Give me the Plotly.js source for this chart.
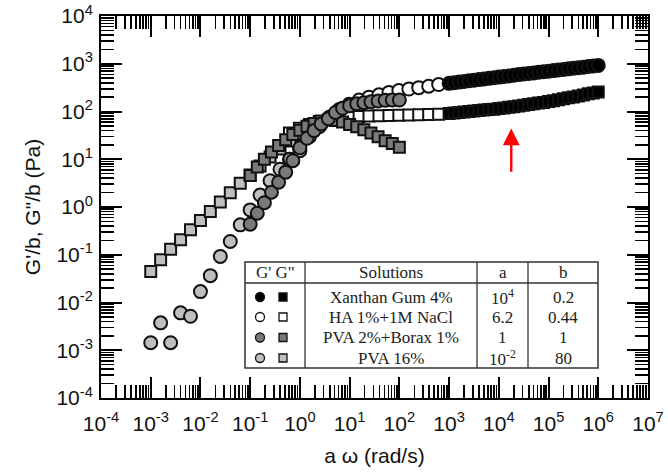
<!DOCTYPE html>
<html>
<head>
<meta charset="utf-8">
<script src="https://cdn.plot.ly/plotly-3.0.1.min.js"></script>
<style>html,body{margin:0;padding:0;background:#fff;}#chart{width:668px;height:475px;}</style>
</head>
<body>
<div id="chart"></div>
<script>
// ---------- data (x = a*omega, y = G/b) ----------
const pva16_x = [0.001, 0.00158, 0.00251, 0.00398, 0.00631, 0.01, 0.0158, 0.0251, 0.0398, 0.0631, 0.1, 0.158, 0.251, 0.398, 0.631, 1.0];
const pva16_Gp = [0.00144, 0.00375, 0.00144, 0.00607, 0.00515, 0.0169, 0.0365, 0.0923, 0.190, 0.423, 0.869, 1.78, 3.55, 6.17, 10.0, 15.1];
const pva16_Gpp = [0.0448, 0.0787, 0.131, 0.206, 0.333, 0.52, 0.802, 1.28, 2.0, 3.14, 4.68, 7.21, 11.1, 16.3, 24.0, 33.6];

const pva2_x = [0.1, 0.139, 0.193, 0.268, 0.373, 0.518, 0.720, 1.0, 1.39, 1.93, 2.68, 3.73, 5.18, 7.20, 10, 13.9, 19.3, 26.8, 37.3, 51.8, 72.0, 100];
const pva2_Gp = [0.437, 0.741, 1.23, 2.04, 3.31, 5.37, 9.33, 17.4, 27.5, 39.8, 55.0, 70.8, 95.5, 117, 132, 145, 153, 160, 166, 172, 174, 174];
const pva2_Gpp = [4.57, 6.92, 10.0, 14.1, 19.5, 25.7, 33.1, 40.7, 49.0, 56.2, 63.1, 66.1, 64.6, 60.3, 53.7, 47.9, 41.7, 35.5, 29.5, 24.5, 21.4, 17.8];

const ha_x = [0.617, 0.977, 1.55, 2.45, 3.89, 6.17, 9.77, 15.5, 24.5, 38.9, 61.7, 97.7, 155, 245, 389, 617];
const ha_Gp = [10.0, 17.8, 29.5, 47.9, 75.9, 110, 141, 174, 200, 224, 251, 275, 295, 316, 339, 367];
const ha_Gpp = [35.5, 44.7, 53.7, 61.7, 67.6, 72.4, 75.9, 78.5, 80.4, 81.3, 82.2, 83.2, 84.1, 85.1, 86.1, 87.1];

const xg_x = [1e3, 1.26e3, 1.58e3, 2.0e3, 2.51e3, 3.16e3, 3.98e3, 5.01e3, 6.31e3, 7.94e3,
              1e4, 1.26e4, 1.58e4, 2.0e4, 2.51e4, 3.16e4, 3.98e4, 5.01e4, 6.31e4, 7.94e4,
              1e5, 1.26e5, 1.58e5, 2.0e5, 2.51e5, 3.16e5, 3.98e5, 5.01e5, 6.31e5, 7.94e5, 1e6];
const xg_Gp = [389, 401, 413, 426, 439, 452, 466, 480, 494, 509, 525, 541, 557, 574, 592, 610, 627, 644, 662, 681, 700, 719, 740, 760, 782, 804, 826, 849, 873, 897, 923];
const xg_Gpp = [91.2, 93.3, 95.5, 97.7, 100, 102, 105, 107, 110, 112, 115, 119, 123, 126, 130, 135, 140, 145, 150, 155, 162, 168, 176, 184, 193, 202, 211, 221, 234, 245, 257];

// ---------- ticks ----------
const xTickVals = [1e-4, 1e-3, 1e-2, 1e-1, 1e0, 1e1, 1e2, 1e3, 1e4, 1e5, 1e6, 1e7];
const xTickText = ["10<sup>-4</sup>", "10<sup>-3</sup>", "10<sup>-2</sup>", "10<sup>-1</sup>", "10<sup>0</sup>", "10<sup>1</sup>", "10<sup>2</sup>", "10<sup>3</sup>", "10<sup>4</sup>", "10<sup>5</sup>", "10<sup>6</sup>", "10<sup>7</sup>"];
const yTickVals = [1e-4, 1e-3, 1e-2, 1e-1, 1e0, 1e1, 1e2, 1e3, 1e4];
const yTickText = ["10<sup>-4</sup>", "10<sup>-3</sup>", "10<sup>-2</sup>", "10<sup>-1</sup>", "10<sup>0</sup>", "10<sup>1</sup>", "10<sup>2</sup>", "10<sup>3</sup>", "10<sup>4</sup>"];

// ---------- table ----------
const tableHeader = ["G' G\"", "Solutions", "a", "b"];
const solutionNames = ["Xanthan Gum 4%", "HA 1%+1M NaCl", "PVA 2%+Borax 1%", "PVA 16%"];
const aLabels = ["10<sup>4</sup>", "6.2", "1", "10<sup>-2</sup>"];
const bLabels = ["0.2", "0.44", "1", "80"];
const seriesFill = ["#000000", "#ffffff", "#7a7a7a", "#bfbfbf"];

const OUT = "#111";
function sc(x, y, sym, fill, size) {
  return {x: x, y: y, type: "scatter", mode: "markers", showlegend: false, hoverinfo: "skip",
    marker: {symbol: sym, size: size, color: fill, line: {color: OUT, width: 2}}};
}
const traces = [
  sc(ha_x, ha_Gpp, "square", seriesFill[1], 11),
  sc(ha_x, ha_Gp, "circle", seriesFill[1], 13),
  sc(pva16_x, pva16_Gpp, "square", seriesFill[3], 11),
  sc(pva16_x, pva16_Gp, "circle", seriesFill[3], 13),
  sc(pva2_x, pva2_Gpp, "square", seriesFill[2], 11),
  sc(pva2_x, pva2_Gp, "circle", seriesFill[2], 13),
  sc(xg_x, xg_Gpp, "square", seriesFill[0], 11),
  sc(xg_x, xg_Gp, "circle", seriesFill[0], 13)
];

// plot-area pixel geometry -> paper coords (for the in-plot table)
const PL = 101, PR = 648, PT = 16, PB = 398;
const px = v => (v - PL) / (PR - PL);
const py = v => (PB - v) / (PB - PT);

const T = {l: 245, r: 598, t: 262, b: 368, head: 283, cols: [305, 477, 528]};
const rowY = [297, 317, 337.5, 358];
const shapes = [];
const lineCol = "#333";
shapes.push({type: "rect", xref: "paper", yref: "paper", x0: px(T.l), x1: px(T.r), y0: py(T.b), y1: py(T.t), line: {color: lineCol, width: 1.5}, fillcolor: "#fff", layer: "above"});
shapes.push({type: "line", xref: "paper", yref: "paper", x0: px(T.l), x1: px(T.r), y0: py(T.head), y1: py(T.head), line: {color: lineCol, width: 1.3}, layer: "above"});
T.cols.forEach(c => shapes.push({type: "line", xref: "paper", yref: "paper", x0: px(c), x1: px(c), y0: py(T.b), y1: py(T.t), line: {color: lineCol, width: 1.3}, layer: "above"}));
rowY.forEach((ry, i) => {
  const cx = 260, r = 4.5;
  shapes.push({type: "circle", xref: "paper", yref: "paper", x0: px(cx - r), x1: px(cx + r), y0: py(ry + r), y1: py(ry - r), fillcolor: seriesFill[i], line: {color: OUT, width: 1.3}, layer: "above"});
  const sx = 283, s = 4;
  shapes.push({type: "rect", xref: "paper", yref: "paper", x0: px(sx - s), x1: px(sx + s), y0: py(ry + s), y1: py(ry - s), fillcolor: seriesFill[i], line: {color: OUT, width: 1.3}, layer: "above"});
});

const serif = {family: "Liberation Serif, Times New Roman, serif", size: 17, color: "#222"};
const ann = [];
function txt(x, y, t) {
  ann.push({xref: "paper", yref: "paper", x: px(x), y: py(y), text: t, showarrow: false, xanchor: "center", yanchor: "middle", font: serif});
}
const colCenters = [275, 391, 502.5, 563];
tableHeader.forEach((h, i) => txt(colCenters[i], 272.5, h));
solutionNames.forEach((s, i) => {
  txt(colCenters[1], rowY[i], s);
  txt(colCenters[2], rowY[i], aLabels[i]);
  txt(colCenters[3], rowY[i], bLabels[i]);
});
// red arrow
const arrowX = 1.78e4, arrowTip = 44, arrowTail = 5.1;
ann.push({x: Math.log10(arrowX), y: Math.log10(arrowTip), ax: Math.log10(arrowX), ay: Math.log10(arrowTail), xref: "x", yref: "y", axref: "x", ayref: "y",
  text: "", showarrow: true, arrowcolor: "#ff0000", arrowwidth: 2.4, arrowhead: 2, arrowsize: 1.4});

const sans = "Liberation Sans, Arial, Helvetica, sans-serif";
const axisCommon = {
  type: "log", showgrid: false, zeroline: false, showline: true, linecolor: "#000", linewidth: 2, mirror: "allticks",
  ticks: "inside", ticklen: 21, tickwidth: 2, tickcolor: "#000", tickmode: "array",
  tickfont: {family: sans, size: 21, color: "#111"},
  minor: {ticks: "inside", ticklen: 13, tickwidth: 1.6, tickcolor: "#000", dtick: "D1", showgrid: false}
};
const layout = {
  width: 668, height: 475, paper_bgcolor: "#fff", plot_bgcolor: "#fff",
  margin: {l: PL, r: 668 - PR, t: PT, b: 475 - PB},
  xaxis: Object.assign({}, axisCommon, {range: [-4, 7], tickvals: xTickVals, ticktext: xTickText, ticklabelstandoff: 6,
    title: {text: "a \u03c9 (rad/s)", font: {family: sans, size: 21, color: "#111"}, standoff: 14}}),
  yaxis: Object.assign({}, axisCommon, {range: [-4, 4], tickvals: yTickVals, ticktext: yTickText, ticklabelstandoff: 2,
    title: {text: "G'/b, G\"/b (Pa)", font: {family: sans, size: 21, color: "#111"}, standoff: 10}}),
  shapes: shapes, annotations: ann
};
Plotly.newPlot("chart", traces, layout, {displayModeBar: false, staticPlot: true});
</script>
</body>
</html>
